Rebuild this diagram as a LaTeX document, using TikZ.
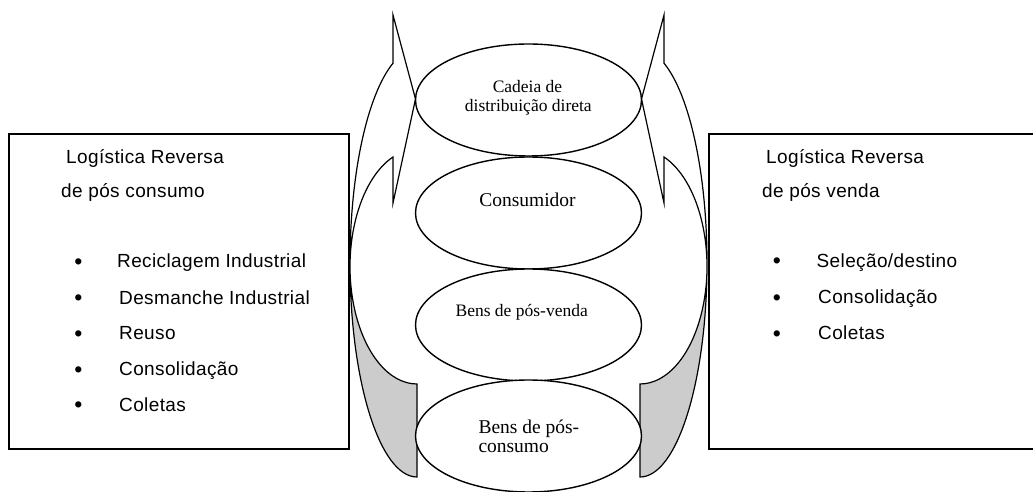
\documentclass[tikz,border=0pt]{standalone}
\usepackage{fontspec}
\setmainfont{Liberation Serif}
\newfontfamily\sansf{Liberation Sans}[LetterSpace=2.0]
\newfontfamily\bulletf{Liberation Sans}
\usetikzlibrary{shapes.geometric}
\definecolor{bandgray}{RGB}{204,204,204}

% curved band arrow on the left side; mirrored for the right side
\newcommand\drawband{%
  \fill[white] (417,15) arc[start angle=270,end angle=111,x radius=67pt,y radius=214pt]
    -- (393,477) -- (415.5,393) -- (393,289) -- (393,335)
    arc[start angle=111,end angle=270,x radius=67pt,y radius=117.4pt] -- cycle;
  \fill[bandgray] (417,108) arc[start angle=270,end angle=180,x radius=67pt,y radius=117.4pt]
    -- (350,229) arc[start angle=180,end angle=270,x radius=67pt,y radius=214pt] -- cycle;
  \draw[bandline] (417,15) arc[start angle=270,end angle=111,x radius=67pt,y radius=214pt]
    -- (393,477) -- (415.5,393) -- (393,289) -- (393,335)
    arc[start angle=111,end angle=270,x radius=67pt,y radius=117.4pt] -- cycle;
}

\tikzset{
  bandline/.style={line width=1.2pt, line join=miter},
  infobox/.style={draw, line width=1.8pt, minimum width=340pt, minimum height=315pt,
    inner sep=0pt, anchor=south west},
  stage/.style={ellipse, draw, fill=white, line width=1.4pt, minimum width=226pt,
    minimum height=112pt, inner sep=0pt},
  sanstxt/.style={font=\sansf\fontsize{19}{19}\selectfont, inner sep=0pt, anchor=base west},
  dot/.style={font=\bulletf\fontsize{23}{23}\selectfont, inner sep=0pt, anchor=base, yshift=-1.3pt},
  bigserif/.style={font=\fontsize{19.5}{19.5}\selectfont, inner sep=0pt},
  smallserif/.style={font=\fontsize{17.5}{17.5}\selectfont, inner sep=0pt, anchor=base},
}

\begin{document}
\begin{tikzpicture}[x=1pt,y=1pt]
\useasboundingbox (0,0) rectangle (1033,492);

% side boxes
\node[infobox] (leftbox) at (8,42) {};
\node[infobox] (rightbox) at (708,42) {};

% curved arrows
\drawband
\begin{scope}[xshift=1057pt,xscale=-1]
  \drawband
\end{scope}

% central stages
\node[stage] (cadeia) at (528.5,392) {};
\node[stage] (consumidor) at (528.5,279) {};
\node[stage] (posvenda) at (528.5,167) {};
\node[stage] (posconsumo) at (528.5,56) {};

\node[smallserif] (cadeiaA) at (527.5,399) {Cadeia de};
\node[smallserif] (cadeiaB) at (528.3,380) {distribuição direta};
\node[bigserif, anchor=base] (consumidorT) at (527.5,285) {Consumidor};
\node[smallserif] (posvendaT) at (521.7,175) {Bens de pós-venda};
\node[bigserif, anchor=base west] (posconsumoA) at (478.3,58.5) {Bens de pós-};
\node[bigserif, anchor=base west] (posconsumoB) at (478.3,39) {consumo};

% left box text
\node[sanstxt] (lt1) at (66,328) {Logística Reversa};
\node[sanstxt] (lt2) at (61,294) {de pós consumo};
\node[dot] (lb1) at (78.3,224) {•};
\node[dot] (lb2) at (78.3,187.5) {•};
\node[dot] (lb3) at (78.3,152) {•};
\node[dot] (lb4) at (78.3,116) {•};
\node[dot] (lb5) at (78.3,80.5) {•};
\node[sanstxt] (li1) at (117,224) {Reciclagem Industrial};
\node[sanstxt] (li2) at (119,187.5) {Desmanche Industrial};
\node[sanstxt] (li3) at (119,152) {Reuso};
\node[sanstxt] (li4) at (119,116) {Consolidação};
\node[sanstxt] (li5) at (119,80.5) {Coletas};

% right box text
\node[sanstxt] (rt1) at (766,328) {Logística Reversa};
\node[sanstxt] (rt2) at (762,294) {de pós venda};
\node[dot] (rb1) at (777,224.3) {•};
\node[dot] (rb2) at (777,188) {•};
\node[dot] (rb3) at (777,152) {•};
\node[sanstxt] (ri1) at (816.5,224.3) {Seleção/destino};
\node[sanstxt] (ri2) at (818,188) {Consolidação};
\node[sanstxt] (ri3) at (818,152) {Coletas};
\end{tikzpicture}
\end{document}
